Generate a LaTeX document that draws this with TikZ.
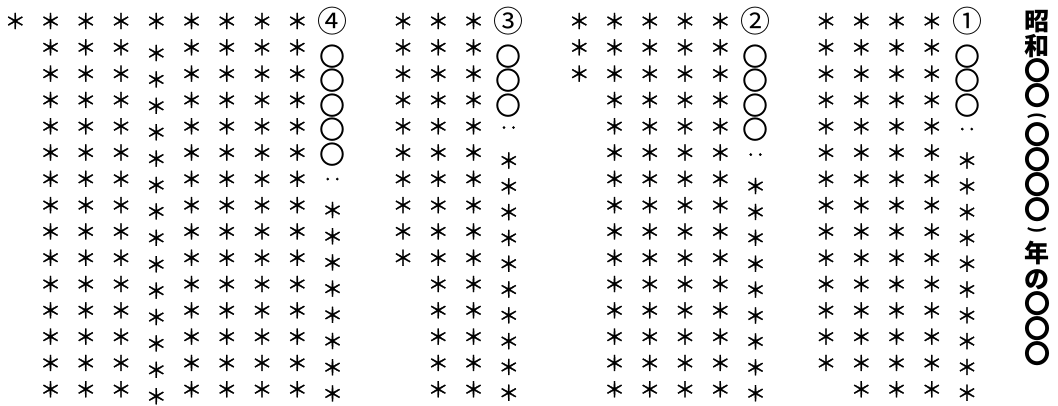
\documentclass[tikz,border=0pt]{standalone}
\usepackage{fontspec}
\newfontfamily\jp{Noto Sans CJK JP}
\newfontfamily\jpa[FakeBold=1.2]{Noto Sans CJK JP}
\begin{document}
\begin{tikzpicture}[x=1pt,y=-1pt,
  ch/.style={inner sep=0pt, font=\jpa\fontsize{21}{21}\selectfont, text height=18.5pt, text depth=2.5pt, anchor=center},
  circ/.style={inner sep=0pt, font=\jp\fontsize{26}{26}\selectfont, text height=22.9pt, text depth=3.1pt, anchor=center},
  num/.style={inner sep=0pt, font=\jp\fontsize{30}{30}\selectfont, text height=26.4pt, text depth=3.6pt, anchor=center},
  cl/.style={inner sep=0pt, font=\jpa\fontsize{19}{19}\selectfont, anchor=south, yshift=-2pt},
  ttl/.style={inner sep=0pt, font=\jp\bfseries\fontsize{25}{25}\selectfont, text height=22pt, text depth=3pt, anchor=center},
  tcirc/.style={inner sep=0pt, font=\jp\bfseries\fontsize{26}{26}\selectfont, text height=22.9pt, text depth=3.1pt, anchor=center},
  tpar/.style={inner sep=0pt, font=\jp\bfseries\fontsize{18}{18}\selectfont, anchor=center, rotate=-90}]
\useasboundingbox[fill=white] (0,0) rectangle (1058,406);
% regular asterisk columns
\foreach \k/\n in {1/15,2/15,3/15,4/14,7/15,8/15,9/15,10/15,11/3,14/15,15/15,16/10,19/15,20/15,21/15,22/15,24/15,25/15,26/15,27/1}
  \foreach \r in {1,...,\n}
    \node[ch] (s-\k-\r) at ({967-35.25*\k},{21+26.3*(\r-1)}) {＊};
% shifted column
\node[ch] (s-23-1) at ({967-35.25*23},21) {＊};
\foreach \r in {2,...,15}
  \node[ch] (s-23-\r) at ({967-35.25*23},{53+26.4*(\r-2)}) {＊};
% column 1
\node[num] (n1) at (967,21) {①};
\foreach \i in {1,2,3}
  \node[circ] (c1-\i) at (967,{56.5+24.5*(\i-1)}) {〇};
\node[cl] (d1) at (967,134.5) {‥};
\foreach \j in {0,...,9}
  \node[ch] (t1-\j) at (967,{160.5+25.8*\j}) {＊};
% column 2
\node[num] (n2) at ({967-35.25*6},21) {②};
\foreach \i in {1,...,4}
  \node[circ] (c2-\i) at ({967-35.25*6},{56.5+24.5*(\i-1)}) {〇};
\node[cl] (d2) at ({967-35.25*6},160) {‥};
\foreach \j in {0,...,8}
  \node[ch] (t2-\j) at ({967-35.25*6},{186+25.9*\j}) {＊};
% column 3
\node[num] (n3) at ({967-35.25*13},21) {③};
\foreach \i in {1,2,3}
  \node[circ] (c3-\i) at ({967-35.25*13},{56.5+24.5*(\i-1)}) {〇};
\node[cl] (d3) at ({967-35.25*13},133) {‥};
\foreach \j in {0,...,9}
  \node[ch] (t3-\j) at ({967-35.25*13},{160.5+25.8*\j}) {＊};
% column 4
\node[num] (n4) at ({967-35.25*18},21) {④};
\foreach \i in {1,...,5}
  \node[circ] (c4-\i) at ({967-35.25*18},{56.5+24.5*(\i-1)}) {〇};
\node[cl] (d4) at ({967-35.25*18},184.5) {‥};
\foreach \j in {0,...,7}
  \node[ch] (t4-\j) at ({967-35.25*18},{210+26.2*\j}) {＊};
% title
\node[ttl] (h1) at (1037,21) {昭};
\node[ttl] (h2) at (1037,46) {和};
\node[tcirc] (h3) at (1037,71) {〇};
\node[tcirc] (h4) at (1037,96) {〇};
\node[tpar] (h5) at (1037,116) {(};
\node[tcirc] (h6) at (1037,135) {〇};
\node[tcirc] (h7) at (1037,160) {〇};
\node[tcirc] (h8) at (1037,185) {〇};
\node[tcirc] (h9) at (1037,210) {〇};
\node[tpar] (h10) at (1037,230) {)};
\node[ttl] (h11) at (1037,253) {年};
\node[ttl] (h12) at (1037,279) {の};
\node[tcirc] (h13) at (1037,304) {〇};
\node[tcirc] (h14) at (1037,329) {〇};
\node[tcirc] (h15) at (1037,354) {〇};
\end{tikzpicture}
\end{document}
